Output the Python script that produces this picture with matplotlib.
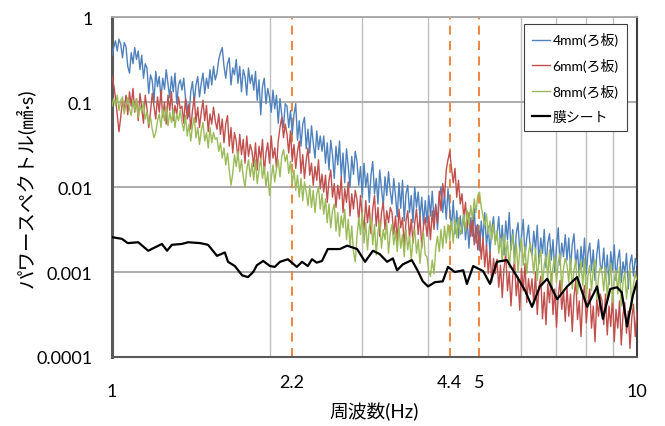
import numpy as np
import matplotlib
matplotlib.use("Agg")
import matplotlib.pyplot as plt

plt.rcParams['font.family'] = ['Lato', 'Noto Sans CJK JP', 'DejaVu Sans']

# パワースペクトル (log10 値で読み取り), 1-10Hz 対数等間隔の格子上
log_4mm = [
    -0.45, -0.36, -0.28, -0.40, -0.26, -0.32, -0.48, -0.30, -0.35, -0.58, -0.66, -0.42, -0.55, -0.36, -0.50, -0.40, -0.62, -0.45, -0.72, -0.55,
    -0.60, -0.90, -0.68, -0.75, -1.00, -0.64, -0.82, -0.70, -0.96, -0.72, -0.85, -0.62, -0.78, -0.95, -0.70, -0.88, -0.66, -1.02, -0.80, -0.74,
    -0.86, -0.72, -0.95, -1.05, -1.18, -0.88, -0.76, -1.00, -0.80, -0.70, -0.94, -0.78, -0.66, -0.90, -0.72, -0.84, -0.62, -0.80, -0.58, -0.74,
    -0.66, -0.50, -0.42, -0.36, -0.58, -0.72, -0.55, -0.48, -0.80, -0.60, -0.68, -0.50, -0.78, -0.58, -0.88, -0.62, -0.70, -0.92, -0.60, -0.78,
    -0.68, -0.86, -0.64, -0.98, -0.74, -1.15, -0.82, -0.72, -1.02, -0.84, -0.95, -1.12, -0.86, -1.08, -0.92, -1.25, -0.96, -1.15, -1.30, -1.02,
    -1.05, -1.30, -1.10, -1.38, -1.15, -1.02, -1.45, -1.22, -1.52, -1.26, -1.18, -1.55, -1.32, -1.60, -1.28, -1.48, -1.66, -1.34, -1.56, -1.40,
    -1.58, -1.40, -1.72, -1.48, -1.80, -1.45, -1.62, -1.90, -1.52, -1.74, -1.46, -1.88, -1.60, -1.95, -1.55, -1.76, -2.00, -1.64, -1.85, -1.58,
    -1.70, -1.98, -1.76, -2.12, -1.72, -2.00, -1.84, -2.18, -1.86, -1.70, -2.08, -1.90, -2.20, -1.80, -2.02, -2.22, -1.88, -2.10, -1.82, -2.05,
    -2.20, -1.90, -2.10, -2.35, -1.95, -2.25, -1.92, -2.40, -2.08, -1.98, -2.30, -2.10, -2.42, -2.00, -2.24, -2.06, -2.36, -2.12, -2.44, -2.16,
    -2.42, -2.10, -2.34, -2.05, -2.40, -2.20, -2.50, -2.14, -2.00, -2.30, -2.08, -2.38, -2.02, -2.26, -2.48, -2.16, -2.55, -2.28, -2.60, -2.34,
    -2.55, -2.30, -2.62, -2.40, -2.72, -2.36, -2.58, -2.25, -2.66, -2.44, -2.75, -2.40, -2.62, -2.30, -2.70, -2.46, -2.78, -2.50, -2.35, -2.64,
    -2.56, -2.35, -2.70, -2.45, -2.80, -2.40, -2.62, -2.30, -2.74, -2.50, -2.85, -2.55, -2.42, -2.76, -2.58, -2.38, -2.82, -2.60, -2.45, -2.72,
    -2.80, -2.52, -2.74, -2.45, -2.90, -2.60, -2.78, -2.50, -2.95, -2.66, -2.55, -2.86, -2.62, -3.00, -2.70, -2.48, -2.92, -2.66, -2.82, -2.56,
    -2.86, -2.60, -2.96, -2.68, -2.55, -2.92, -2.74, -3.05, -2.70, -2.94, -2.60, -3.02, -2.78, -2.66, -2.98, -2.74, -3.10, -2.80, -2.62, -2.92,
    -2.96, -2.72, -3.06, -2.80, -3.15, -2.76, -2.98, -2.68, -3.10, -2.86, -2.74, -3.12, -2.88, -3.02, -2.78, -3.20, -2.90, -2.80, -3.05, -2.84,
    -2.92,
]
log_6mm = [
    -0.69, -0.80, -0.95, -1.15, -1.35, -1.18, -0.98, -1.10, -0.92, -1.15, -0.88, -1.05, -0.84, -1.12, -0.96, -1.22, -0.90, -1.08, -1.25, -0.92,
    -1.08, -1.30, -1.12, -0.90, -1.05, -1.20, -0.94, -1.12, -0.86, -1.18, -1.00, -1.26, -0.92, -1.10, -0.88, -1.22, -1.04, -1.15, -0.94, -1.08,
    -1.05, -1.25, -0.96, -1.20, -1.02, -1.32, -1.10, -0.94, -1.24, -1.06, -1.30, -1.12, -0.98, -1.22, -1.04, -1.35, -1.14, -1.26, -1.06, -1.22,
    -1.32, -1.14, -1.38, -1.20, -1.48, -1.26, -1.16, -1.52, -1.30, -1.60, -1.36, -1.46, -1.68, -1.38, -1.62, -1.44, -1.72, -1.40, -1.64, -1.50,
    -1.58, -1.76, -1.48, -1.80, -1.52, -1.68, -1.44, -1.84, -1.60, -1.48, -1.72, -1.40, -1.66, -1.54, -1.78, -1.46, -1.30, -1.18, -1.42, -1.26,
    -1.38, -1.60, -1.34, -1.70, -1.50, -1.78, -1.58, -1.46, -1.84, -1.62, -1.90, -1.68, -1.54, -1.86, -1.72, -1.98, -1.76, -1.92, -1.68, -2.02,
    -1.85, -2.06, -1.86, -2.18, -1.92, -1.80, -2.12, -1.96, -2.24, -1.98, -2.14, -1.88, -2.30, -2.02, -2.18, -1.94, -2.34, -2.08, -2.26, -2.04,
    -2.15, -2.40, -2.10, -2.34, -2.50, -2.16, -2.42, -2.22, -2.55, -2.26, -2.10, -2.46, -2.24, -2.58, -2.30, -2.18, -2.50, -2.28, -2.42, -2.24,
    -2.30, -2.56, -2.34, -2.64, -2.26, -2.48, -2.36, -2.70, -2.40, -2.28, -2.60, -2.38, -2.66, -2.42, -2.26, -2.56, -2.34, -2.72, -2.46, -2.36,
    -2.58, -2.34, -2.62, -2.28, -2.50, -2.22, -2.42, -2.05, -2.28, -1.96, -2.12, -1.80, -1.68, -1.58, -1.78, -1.95, -1.78, -2.12, -1.92, -2.20,
    -2.08, -2.36, -2.18, -2.48, -2.30, -2.58, -2.36, -2.68, -2.45, -2.74, -2.52, -2.85, -2.60, -2.94, -2.68, -3.02, -2.76, -3.12, -2.84, -3.02,
    -2.85, -3.18, -2.92, -3.30, -2.96, -2.78, -3.22, -3.00, -3.40, -3.05, -2.86, -3.28, -3.06, -3.45, -2.96, -3.22, -2.90, -3.36, -3.08, -3.26,
    -3.08, -3.38, -3.00, -3.50, -3.18, -3.05, -3.55, -3.24, -3.62, -3.14, -3.36, -3.02, -3.50, -3.20, -3.65, -3.28, -3.10, -3.44, -3.22, -3.58,
    -3.18, -3.52, -3.26, -3.70, -3.28, -3.10, -3.56, -3.34, -3.76, -3.30, -3.16, -3.60, -3.36, -3.20, -3.66, -3.40, -3.82, -3.32, -3.52, -3.26,
    -3.34, -3.62, -3.26, -3.74, -3.40, -3.64, -3.28, -3.82, -3.44, -3.66, -3.34, -3.86, -3.50, -3.36, -3.72, -3.46, -3.90, -3.54, -3.38, -3.76,
    -3.45,
]
log_8mm = [
    -1.05, -0.96, -1.04, -0.92, -1.10, -0.98, -0.94, -1.14, -1.02, -0.95, -1.08, -1.16, -0.98, -1.10, -0.96, -1.18, -1.04, -1.12, -1.00, -1.20,
    -1.12, -1.26, -1.18, -1.32, -1.42, -1.36, -1.22, -1.14, -1.30, -1.08, -1.22, -1.06, -1.28, -1.12, -1.24, -1.08, -1.30, -1.14, -1.22, -1.10,
    -1.24, -1.34, -1.16, -1.40, -1.26, -1.46, -1.28, -1.18, -1.42, -1.30, -1.50, -1.34, -1.24, -1.46, -1.36, -1.54, -1.30, -1.48, -1.36, -1.44,
    -1.42, -1.58, -1.48, -1.66, -1.54, -1.74, -1.60, -1.80, -1.98, -1.84, -1.62, -1.76, -1.58, -1.82, -1.68, -1.88, -2.00, -1.80, -1.68, -1.88,
    -1.72, -1.92, -1.68, -1.96, -1.80, -1.66, -1.90, -1.76, -2.00, -1.82, -2.10, -1.90, -1.74, -1.94, -1.78, -1.68, -1.88, -1.64, -1.56, -1.70,
    -1.62, -1.84, -1.70, -1.96, -1.80, -2.04, -1.86, -2.12, -1.90, -2.16, -1.94, -2.06, -2.22, -1.98, -2.24, -2.04, -2.30, -2.08, -2.00, -2.26,
    -2.08, -2.32, -2.14, -2.42, -2.20, -2.48, -2.28, -2.20, -2.52, -2.30, -2.58, -2.34, -2.48, -2.26, -2.62, -2.38, -2.70, -2.46, -2.76, -2.88,
    -2.58, -2.36, -2.56, -2.30, -2.66, -2.42, -2.74, -2.48, -2.36, -2.68, -2.44, -2.80, -2.52, -2.40, -2.72, -2.50, -2.62, -2.42, -2.78, -2.54,
    -2.44, -2.68, -2.52, -2.76, -2.46, -2.72, -2.56, -2.82, -2.50, -2.74, -2.58, -2.86, -2.60, -2.50, -2.78, -2.62, -2.90, -2.66, -2.54, -2.80,
    -2.82, -3.00, -3.05, -2.86, -3.02, -2.72, -2.58, -2.76, -2.50, -2.72, -2.46, -2.66, -2.44, -2.62, -2.40, -2.66, -2.38, -2.60, -2.36, -2.56,
    -2.48, -2.32, -2.52, -2.28, -2.44, -2.22, -2.38, -2.14, -2.30, -2.10, -2.06, -2.24, -2.34, -2.46, -2.32, -2.56, -2.40, -2.62, -2.44, -2.68,
    -2.52, -2.78, -2.60, -2.88, -2.56, -2.80, -2.64, -2.95, -2.70, -2.56, -2.90, -2.66, -3.00, -2.74, -2.60, -2.92, -2.70, -3.02, -2.78, -2.66,
    -2.80, -3.02, -2.72, -3.10, -2.86, -2.74, -3.16, -2.92, -2.80, -3.08, -2.74, -3.20, -2.94, -2.82, -3.12, -2.88, -2.78, -3.22, -2.96, -2.84,
    -2.92, -3.12, -2.84, -3.20, -2.98, -2.86, -3.26, -3.02, -2.88, -3.16, -2.84, -3.30, -3.04, -2.92, -3.22, -2.98, -2.86, -3.32, -3.06, -2.94,
    -3.00, -3.22, -2.94, -3.30, -3.06, -2.90, -3.36, -3.10, -2.98, -3.26, -2.94, -3.40, -3.12, -3.00, -3.32, -3.06, -2.96, -3.44, -3.14, -3.02,
    -3.10,
]

# 膜シート (平滑化されている) : log10 周波数, log10 パワー
lf_sheet = [
    0.000, 0.019, 0.030, 0.050, 0.069, 0.095, 0.105, 0.114, 0.133, 0.145,
    0.168, 0.183, 0.200, 0.215, 0.221, 0.234, 0.248, 0.259, 0.269, 0.276,
    0.288, 0.301, 0.310, 0.320, 0.335, 0.352, 0.362, 0.373, 0.381, 0.390,
    0.400, 0.411, 0.434, 0.448, 0.467, 0.482, 0.497, 0.510, 0.524, 0.535,
    0.543, 0.554, 0.571, 0.581, 0.592, 0.602, 0.615, 0.630, 0.640, 0.653,
    0.669, 0.676, 0.688, 0.707, 0.720, 0.733, 0.752, 0.771, 0.787, 0.800,
    0.815, 0.829, 0.848, 0.867, 0.886, 0.905, 0.924, 0.935, 0.949, 0.962,
    0.971, 0.981, 0.992, 1.000,
]
lp_sheet = [
    -2.59, -2.61, -2.66, -2.65, -2.75, -2.67, -2.75, -2.68, -2.67, -2.65,
    -2.66, -2.68, -2.81, -2.77, -2.88, -2.93, -3.04, -3.06, -3.00, -2.92,
    -2.87, -2.93, -2.94, -2.88, -2.85, -2.94, -2.88, -2.93, -2.85, -2.89,
    -2.87, -2.73, -2.73, -2.69, -2.73, -2.88, -2.75, -2.79, -2.88, -2.84,
    -2.98, -2.91, -2.86, -2.97, -3.11, -3.17, -3.12, -3.11, -2.94, -3.00,
    -2.98, -3.14, -2.93, -2.99, -3.14, -2.88, -2.86, -3.05, -3.22, -3.41,
    -3.17, -3.08, -3.32, -3.17, -3.06, -3.41, -3.17, -3.55, -3.20, -3.18,
    -3.24, -3.64, -3.28, -3.11,
]

series = [
    ('4mm(ろ板)', log_4mm, '#4F81BD'),
    ('6mm(ろ板)', log_6mm, '#C0504D'),
    ('8mm(ろ板)', log_8mm, '#9BBB59'),
]
marks = [2.2, 4.4, 5]
xticks = [1, 2.2, 4.4, 5, 10]
xtick_labels = ['1', '2.2', '4.4', '5', '10']
yticks = [0.0001, 0.001, 0.01, 0.1, 1]
ytick_labels = ['0.0001', '0.001', '0.01', '0.1', '1']

fig = plt.figure(figsize=(6.65, 4.27), dpi=100)
ax = fig.add_axes([0.1684, 0.1616, 0.7895, 0.7962])

for label, vals, col in series:
    freq = np.logspace(0, 1, len(vals))
    ax.plot(freq, 10 ** np.array(vals), color=col, lw=1.0, label=label, zorder=3)
ax.plot(10 ** np.array(lf_sheet), 10 ** np.array(lp_sheet), color='black', lw=1.6,
        label='膜シート', zorder=4)

for m in marks:
    ax.axvline(m, color='#ED7D31', lw=1.3, dashes=(5, 3.5), zorder=2)

ax.set_xscale('log')
ax.set_yscale('log')
ax.set_xlim(1, 10)
ax.set_ylim(0.0001, 1)

ax.set_xticks(xticks)
ax.set_xticklabels(xtick_labels)
ax.set_xticks([2, 3, 4, 5, 6, 7, 8, 9], minor=True)
ax.xaxis.set_minor_formatter(matplotlib.ticker.NullFormatter())
ax.set_yticks(yticks)
ax.set_yticklabels(ytick_labels)
ax.yaxis.set_minor_locator(matplotlib.ticker.NullLocator())
ax.tick_params(axis='both', which='both', length=0, labelsize=13, colors='black')
ax.tick_params(axis='y', pad=14)
for i, t in enumerate(ax.xaxis.get_major_ticks()):
    t.set_pad(19 if xtick_labels[i] in ('1', '10') else 12.5)

ax.grid(True, which='major', axis='y', color='#A6A6A6', lw=1.3, zorder=1)
ax.grid(True, which='minor', axis='x', color='#BFBFBF', lw=1.0, zorder=1)

ax.spines['left'].set_color('#595959')
ax.spines['left'].set_linewidth(2.2)
ax.spines['bottom'].set_color('#595959')
ax.spines['bottom'].set_linewidth(1.5)
ax.spines['right'].set_color('#404040')
ax.spines['right'].set_linewidth(1.5)
ax.spines['top'].set_color('#A6A6A6')
ax.spines['top'].set_linewidth(1.3)

ax.set_xlabel('周波数(Hz)', fontsize=13.5, labelpad=2)
ax.set_ylabel('パワースペクトル(㎟·s)', fontsize=14, labelpad=1)

leg = ax.legend(loc='upper right', bbox_to_anchor=(0.981, 0.979), fontsize=10,
                frameon=True, fancybox=False, edgecolor='#404040', framealpha=1,
                handlelength=1.3, handletextpad=0.15, labelspacing=0.85,
                borderpad=0.6, borderaxespad=0)
leg.get_frame().set_linewidth(0.8)
leg.set_zorder(10)

fig.savefig('out.png', dpi=100)
